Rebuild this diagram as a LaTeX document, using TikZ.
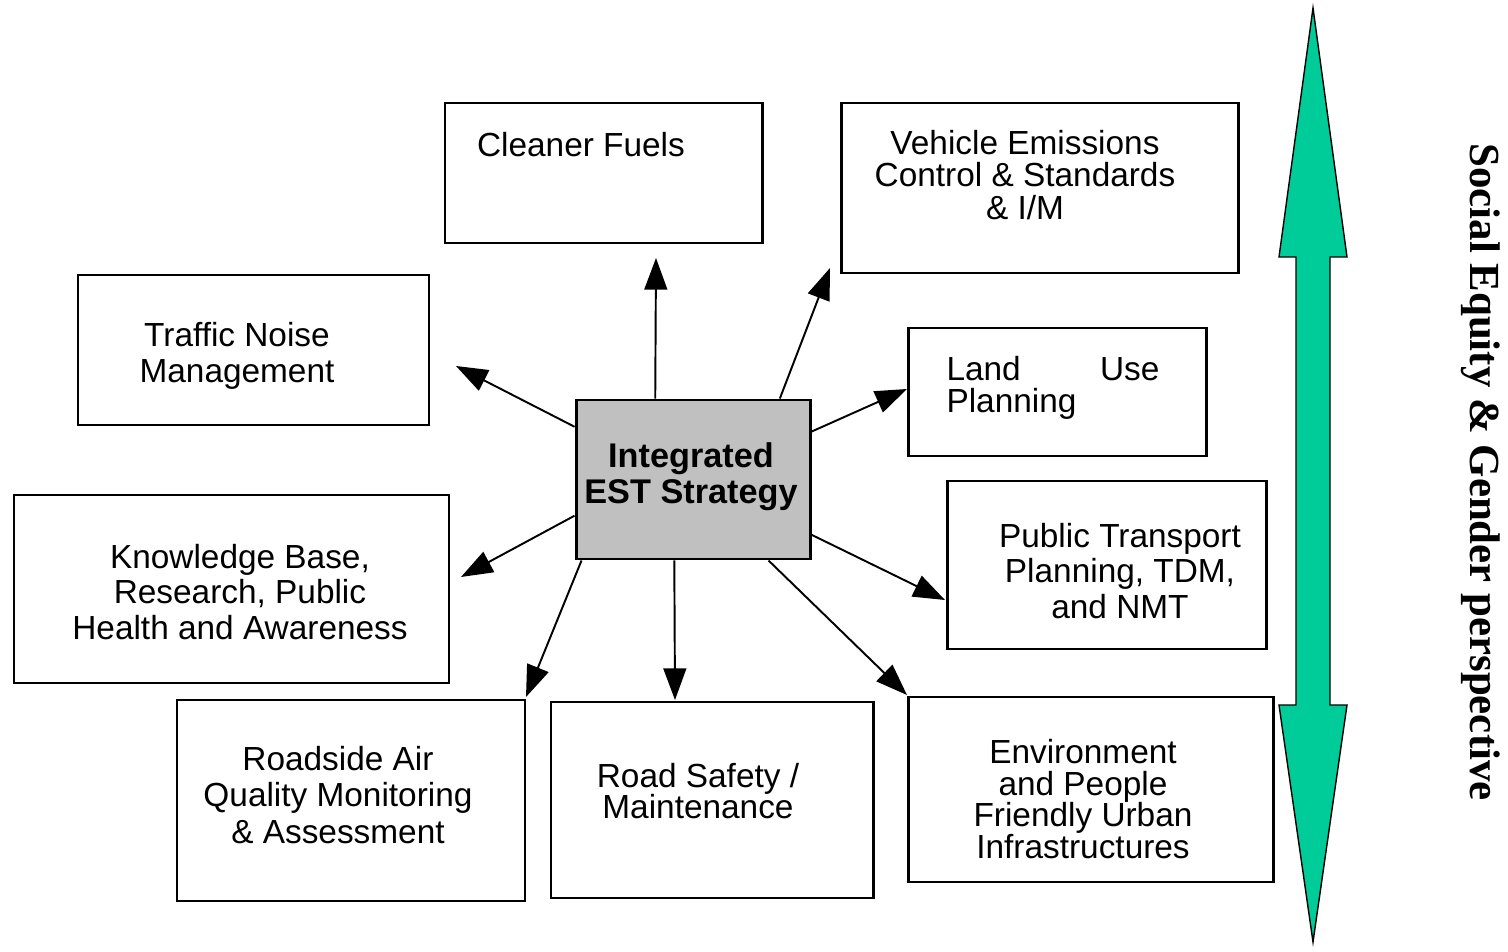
\documentclass[tikz,border=0pt]{standalone}
\usepackage{fontspec}
\setmainfont{Liberation Sans}
\newfontfamily\sidefont{Liberation Serif}
\usetikzlibrary{arrows.meta,fit}
\definecolor{estgray}{RGB}{192,192,192}
\definecolor{estgreen}{RGB}{0,204,153}
\lineskiplimit=-\maxdimen
\begin{document}
\begin{tikzpicture}[x=0.02cm,y=-0.02cm,>={Triangle[length=18pt,width=13pt]},
		box/.style={draw,line width=1.7pt,inner sep=0pt},
		txt/.style={inner sep=0pt,align=center,font=\fontsize{19}{#1}\selectfont},
		txt/.default=20.4,
		link/.style={->,line width=1.1pt}]
		\useasboundingbox (0,0) rectangle (1508,952);
		\begin{scope}
			\node[box,fit={(445,103) (762,243)}] (fuels) {};
			\node[box,fit={(841,103) (1238,273)}] (vehicle) {};
			\node[box,fit={(78,275) (429,425)}] (noise) {};
			\node[box,fit={(908,328) (1206,456)}] (landuse) {};
			\node[box,fit={(14,495) (449,683)}] (knowledge) {};
			\node[box,fit={(947,481) (1266,649)}] (transport) {};
			\node[box,fit={(177,700) (525,901)}] (roadside) {};
			\node[box,fit={(551,702) (873,898)}] (safety) {};
			\node[box,fit={(908,697) (1273,882)}] (environment) {};
			\node[box,fill=estgray,fit={(576,400) (810,559)}] (est) {};
		\end{scope}
		\begin{scope}
			\node[txt,font=\fontsize{19.5}{20.4}\selectfont\bfseries] (esttext) at (691,477) {Integrated\\EST Strategy};
			\node[txt] (fuelstext) at (581,145) {Cleaner Fuels};
			\node[txt=18.7] (vehicletext) at (1025,175) {Vehicle Emissions\\Control \& Standards\\\& I/M};
			\node[txt] (noisetext) at (237,356) {Traffic Noise\\Management};
			\node[txt=18.3,align=left,text width=4.26cm] (landusetext) at (1053,388) {Land\hfill Use\\Planning};
			\node[txt] (knowledgetext) at (240,592) {Knowledge Base,\\Research, Public\\Health and Awareness};
			\node[txt=20.1] (transporttext) at (1120,571) {Public Transport\\Planning, TDM,\\and NMT};
			\node[txt=20.7] (roadsidetext) at (338,795) {Roadside Air\\Quality Monitoring\\\& Assessment};
			\node[txt=18] (safetytext) at (698,791) {Road Safety /\\Maintenance};
			\node[txt=18] (environmenttext) at (1083,799) {Environment\\and People\\Friendly Urban\\Infrastructures};
		\end{scope}
		\coordinate (t1) at (656,258);
		\coordinate (t2) at (830,268);
		\coordinate (t3) at (456,366);
		\coordinate (t4) at (907,389);
		\coordinate (t5) at (461,577);
		\coordinate (t6) at (526,697);
		\coordinate (t7) at (675,700);
		\coordinate (t8) at (907,695);
		\coordinate (t9) at (945,600);
		\draw[link] (est.115) -- (t1);
		\draw[link] (est.43) -- (t2);
		\draw[link] (est.156) -- (t3);
		\draw[link] (est.22) -- (t4);
		\draw[link] (est.197) -- (t5);
		\draw[link] (est.216) -- (t6);
		\draw[link] (est.257) -- (t7);
		\draw[link] (est.313) -- (t8);
		\draw[link] (est.335) -- (t9);
		\draw[fill=estgreen,line width=0.8pt] (1313,8) -- (1347,257) -- (1330,257) -- (1330,705) -- (1347,705)
			-- (1313,942) -- (1279,705) -- (1296,705) -- (1296,257) -- (1279,257) -- cycle;
		\node[rotate=-90,inner sep=0pt,font=\sidefont\bfseries\fontsize{24.4}{26}\selectfont] (side) at (1481,472) {Social Equity \& Gender perspective};
	\end{tikzpicture}
\end{document}
